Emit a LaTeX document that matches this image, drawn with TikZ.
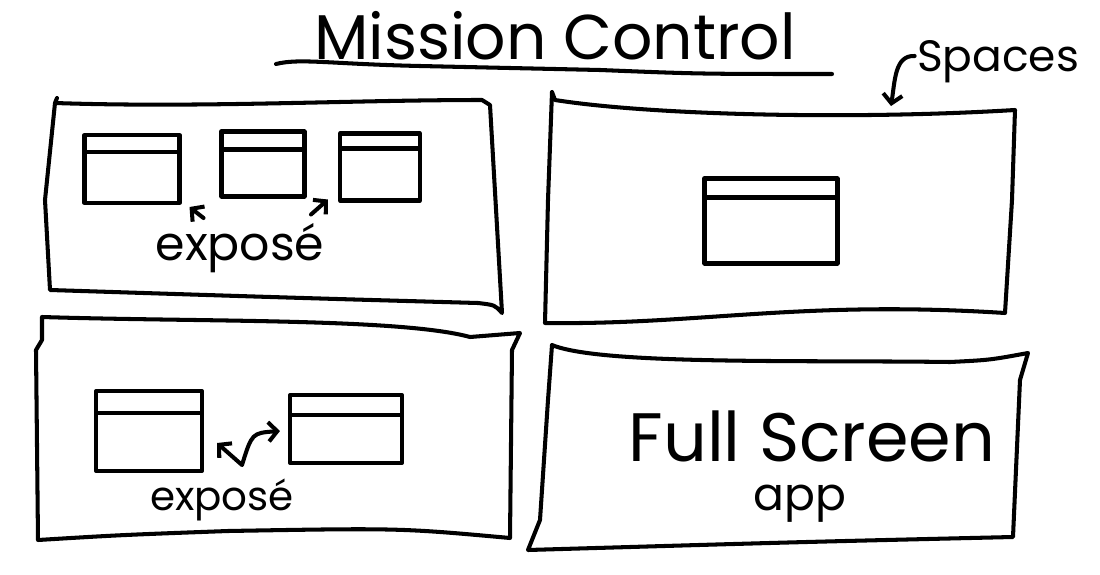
\documentclass[tikz,border=0pt]{standalone}
\usepackage{fontspec}
\setmainfont{Poppins}
\usetikzlibrary{calc,arrows.meta,positioning}
\newcommand{\px}{0.02cm}
\newcommand{\pen}{2.3pt}
\tikzset{ink/.style={color=#1,line width=\pen,line cap=round,line join=round},ink/.default=black}
\tikzset{scrawl/.style={font=\fontsize{#1pt}{#1pt}\selectfont,inner sep=0pt},scrawl/.default=28}
\tikzset{window/.style n args={3}{ink,draw,inner sep=0pt,minimum width=#1,minimum height=#2,
	path picture={\draw [ink] ([yshift=-#3]path picture bounding box.north west) --
		([yshift=-#3]path picture bounding box.north east);}}}
\tikzset{barb/.style={ink,-{Straight Barb[length=5pt,width=11pt]}}}
\tikzset{twobarb/.style={ink,{Straight Barb[length=5pt,width=11pt]}-{Straight Barb[length=5pt,width=11pt]}}}

\begin{document}
\begin{tikzpicture}[x=\px,y=-\px]
		\useasboundingbox (0,0) rectangle (1100,575);

		% title
		\node [scrawl=36] (title) at (555,36) {Mission Control};
		\draw [ink] (276,64) .. controls (300,58) and (330,64) .. (420,66)
			-- (600,70) .. controls (700,74) .. (832,74);

		% spaces
		\draw [ink] (57,98) -- (55,103) .. controls (200,108) and (350,100) .. (482,100)
			-- (490,105) -- (502,313) .. controls (495,305) .. (478,303)
			.. controls (300,298) .. (50,290) -- (45,200) -- (55,103);
		\draw [ink] (552,92) -- (555,100) .. controls (650,115) and (850,120) .. (1015,110)
			-- (1012,200) -- (1005,313) .. controls (800,300) and (700,325) .. (545,323)
			-- (548,200) -- (552,92);
		\draw [ink] (42,317) .. controls (200,322) and (400,318) .. (470,337) -- (520,333)
			-- (512,350) -- (510,538) .. controls (400,528) .. (228,531)
			.. controls (120,535) .. (38,540) -- (36,350) -- (42,340) -- (42,317);
		\draw [ink] (552,345) .. controls (600,365) and (800,360) .. (950,362)
			.. controls (990,360) .. (1028,353) -- (1020,380) -- (1013,537)
			.. controls (800,542) .. (528,550) -- (540,520) -- (548,400) -- (552,345);

		% windows
		\node [window={95*\px}{68*\px}{17*\px}] (W1) at (132,169) {};
		\node [window={83*\px}{65*\px}{18*\px}] (W2) at (263,164) {};
		\node [window={80*\px}{67*\px}{15*\px}] (W3) at (380,167) {};
		\node [window={133*\px}{85*\px}{19*\px}] (W6) at (771,221) {};
		\node [window={106*\px}{80*\px}{22*\px}] (W4) at (149,431) {};
		\node [window={112*\px}{68*\px}{20*\px}] (W5) at (346,429) {};

		% labels
		\node [scrawl=27] (ExpA) at (240,248) {exposé};
		\node [scrawl=23] (ExpB) at (222,500) {exposé};
		\node [scrawl=25] (Spaces) at (998,62) {Spaces};
		\node [scrawl=39] (Full) at (812,436) {Full Screen};
		\node [scrawl=26] (App) at (800,504) {app};

		% arrows
		\coordinate (tA) at ($(W1.south east)+(8,2)$);
		\coordinate (tB) at ($(W3.south west)+(-10,-3)$);
		\draw [barb] ($(tA)+(14,11)$) -- (tA);
		\draw [barb] ($(tB)+(-17,15)$) -- (tB);
		\coordinate (L) at ($(W4.east)+(13,12)$);
		\coordinate (V) at (242,465);
		\coordinate (R) at ($(W5.west)+(-8,2)$);
		\draw [twobarb] (L) -- (V)
			.. controls ($(V)+(10,-32)$) .. (R);
		\draw [barb] ($(Spaces.west)+(-2,-6)$) .. controls (895,55) and (895,80) .. (891,106);
	\end{tikzpicture}
\end{document}
